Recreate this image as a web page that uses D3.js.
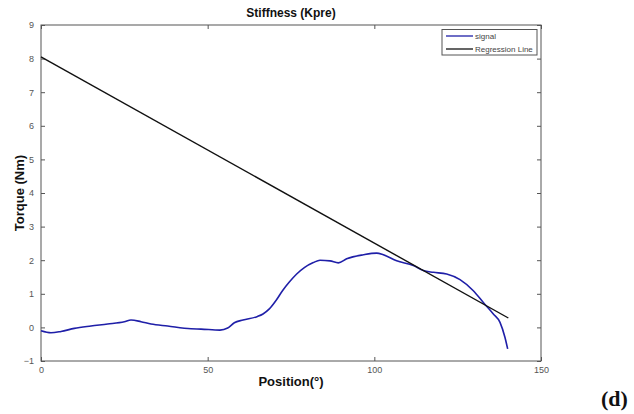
<!DOCTYPE html>
<html>
<head>
<meta charset="utf-8">
<script src="https://cdn.jsdelivr.net/npm/d3@7"></script>
<style>
  body { margin: 0; background: #fff; }
  svg { display: block; }
</style>
</head>
<body>
<script>
// signal (position in degrees, torque in Nm)
var sigX = [0, 3, 6, 10, 15, 20, 25, 27, 30, 33, 38, 45, 48, 53.7, 56, 58, 60.6, 64.8, 66.6, 68.5, 70.5, 72.5, 74.5, 76.7, 79, 81.7, 83.7, 86.7, 89.2, 91.7, 96.7, 100.7, 102.7, 106.7, 111.7, 114.7, 117.7, 121.7, 125.7, 129.7, 132.7, 135.7, 137.7, 139.2, 140];
var sigY = [-0.1, -0.16, -0.12, -0.03, 0.04, 0.1, 0.17, 0.22, 0.17, 0.1, 0.04, -0.04, -0.05, -0.08, -0.02, 0.14, 0.22, 0.32, 0.4, 0.55, 0.8, 1.1, 1.35, 1.59, 1.78, 1.93, 2.0, 1.98, 1.92, 2.04, 2.16, 2.21, 2.16, 1.98, 1.84, 1.69, 1.64, 1.59, 1.42, 1.09, 0.74, 0.4, 0.15, -0.3, -0.64];
// regression line end points
var regX = [0, 140.2];
var regY = [8.05, 0.28];
var xTicks = [0, 50, 100, 150];
var yTicks = [-1, 0, 1, 2, 3, 4, 5, 6, 7, 8, 9];
var legendNames = ['signal', 'Regression Line'];
var legendColors = ['#1f1fa8', '#111'];

// note: "top" is reserved on window, so plot edges get their own names
var W = 634, H = 414,
    pL = 41, pR = 541, pT = 25, pB = 361;

var svg = d3.select('body').append('svg')
    .attr('width', W)
    .attr('height', H);

var x = d3.scaleLinear().domain([0, 150]).range([pL, pR]);
var y = d3.scaleLinear().domain([-1, 9]).range([pB, pT]);

// box
svg.append('rect')
    .attr('x', pL).attr('y', pT)
    .attr('width', pR - pL).attr('height', pB - pT)
    .attr('fill', 'none').attr('stroke', '#555').attr('stroke-width', 1);

// ticks (inward, on all four sides like matlab)
var tk = 4;
var xa = d3.axisBottom(x).tickValues(xTicks).tickSizeInner(-tk).tickSizeOuter(0).tickPadding(tk + 3);
var ya = d3.axisLeft(y).tickValues(yTicks).tickSizeInner(-tk).tickSizeOuter(0).tickPadding(tk + 3);

var gx = svg.append('g').attr('transform', 'translate(0,' + pB + ')').call(xa);
var gy = svg.append('g').attr('transform', 'translate(' + pL + ',0)').call(ya);
svg.append('g').attr('transform', 'translate(0,' + pT + ')')
    .call(d3.axisTop(x).tickValues(xTicks).tickSizeInner(-tk).tickSizeOuter(0).tickFormat(''));
svg.append('g').attr('transform', 'translate(' + pR + ',0)')
    .call(d3.axisRight(y).tickValues(yTicks).tickSizeInner(-tk).tickSizeOuter(0).tickFormat(''));

svg.selectAll('.domain').remove();
svg.selectAll('.tick line').attr('stroke', '#555');
svg.selectAll('.tick text')
    .attr('fill', '#555')
    .attr('font-family', 'Liberation Sans, Arial, sans-serif')
    .attr('font-size', '9px');
gx.selectAll('.tick text').attr('dy', '0.5em');

// lines
var sig = sigX.map(function(d, i) { return [d, sigY[i]]; });
var reg = regX.map(function(d, i) { return [d, regY[i]]; });
var line = d3.line()
    .x(function(d) { return x(d[0]); })
    .y(function(d) { return y(d[1]); })
    .curve(d3.curveMonotoneX);

svg.append('path').datum(sig)
    .attr('d', line)
    .attr('fill', 'none')
    .attr('stroke', legendColors[0])
    .attr('stroke-width', 1.6);

svg.append('path').datum(reg)
    .attr('d', d3.line().x(function(d) { return x(d[0]); }).y(function(d) { return y(d[1]); }))
    .attr('fill', 'none')
    .attr('stroke', legendColors[1])
    .attr('stroke-width', 1.4);

// legend
var lg = svg.append('g');
lg.append('rect')
    .attr('x', 442).attr('y', 29.5)
    .attr('width', 95).attr('height', 25.5)
    .attr('fill', '#fff').attr('stroke', '#555').attr('stroke-width', 1);
lg.selectAll('line.leg')
    .data(legendNames)
    .enter()
    .append('line')
    .attr('x1', 446).attr('x2', 473)
    .attr('y1', function(d, i) { return 36 + i * 13; })
    .attr('y2', function(d, i) { return 36 + i * 13; })
    .attr('stroke', function(d, i) { return legendColors[i]; })
    .attr('stroke-width', 1.3);
lg.selectAll('text')
    .data(legendNames)
    .enter()
    .append('text')
    .text(function(d) { return d; })
    .attr('x', 475)
    .attr('y', function(d, i) { return 39 + i * 13; })
    .attr('font-family', 'Liberation Sans, Arial, sans-serif')
    .attr('font-size', '8px')
    .attr('fill', '#444');

// titles
svg.append('text')
    .text('Stiffness (Kpre)')
    .attr('x', (pL + pR) / 2).attr('y', 17)
    .attr('text-anchor', 'middle')
    .attr('font-family', 'Liberation Sans, Arial, sans-serif')
    .attr('font-weight', 'bold')
    .attr('font-size', '12px')
    .attr('fill', '#111');

svg.append('text')
    .text('Position(\u00b0)')
    .attr('x', (pL + pR) / 2).attr('y', 386)
    .attr('text-anchor', 'middle')
    .attr('font-family', 'Liberation Sans, Arial, sans-serif')
    .attr('font-weight', 'bold')
    .attr('font-size', '13px')
    .attr('fill', '#111');

svg.append('text')
    .text('Torque (Nm)')
    .attr('transform', 'translate(24,' + (pT + pB) / 2 + ') rotate(-90)')
    .attr('text-anchor', 'middle')
    .attr('font-family', 'Liberation Sans, Arial, sans-serif')
    .attr('font-weight', 'bold')
    .attr('font-size', '13px')
    .attr('fill', '#111');

svg.append('text')
    .text('(d)')
    .attr('x', 601).attr('y', 406)
    .attr('font-family', 'Liberation Serif, Times New Roman, serif')
    .attr('font-weight', 'bold')
    .attr('font-size', '22px')
    .attr('fill', '#111');
</script>
</body>
</html>
